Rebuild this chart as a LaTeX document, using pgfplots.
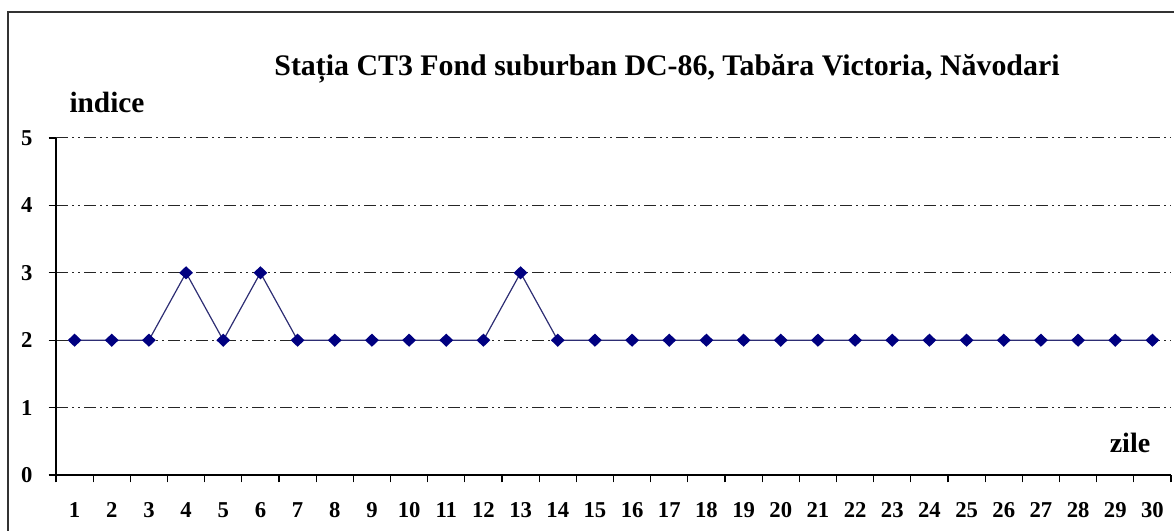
\documentclass[border=0pt]{standalone}
\usepackage{fontspec}
\setmainfont{Liberation Serif}
\usepackage{pgfplots}
\pgfplotsset{compat=1.18}
\definecolor{navy}{RGB}{0,0,128}
\definecolor{lineblue}{RGB}{45,45,115}
\begin{document}
\begin{tikzpicture}
\useasboundingbox (-42pt,-42pt) rectangle (838.5pt,356.25pt);
\draw[line width=1.1pt, black!80] (-36pt,-60pt) -- (-36pt,347.25pt) -- (860pt,347.25pt);
\begin{axis}[
  at={(0pt,0pt)}, anchor=south west,
  scale only axis, width=836.25pt, height=252.75pt,
  xmin=0.5, xmax=30.5, ymin=0, ymax=5,
  axis x line*=bottom, axis y line*=left,
  axis line style={line width=1.1pt, black},
  tick align=outside, major tick length=5.5pt,
  every tick/.style={black, line width=0.9pt},
  xtick={0.5,1.5,...,30.5}, xticklabels={},
  extra x ticks={1,2,...,30},
  extra x tick style={major tick length=0pt, grid=none},
  extra x tick labels={1,2,3,4,5,6,7,8,9,10,11,12,13,14,15,16,17,18,19,20,21,22,23,24,25,26,27,28,29,30},
  ytick={0,1,2,3,4,5},
  ymajorgrids,
  major grid style={black!85, line width=0.75pt, dash pattern=on 9pt off 3pt on 1.5pt off 3pt on 1.5pt off 3pt},
  /pgf/number format/assume math mode=true,
  ticklabel style={font=\fontsize{17}{17}\selectfont\bfseries},
  xticklabel style={anchor=base, inner sep=0pt, yshift=-32.25pt},
  yticklabel style={anchor=east, inner sep=0pt, xshift=-12pt},
  clip=false,
]
\addplot[lineblue, line width=0.9pt, mark=diamond*, mark size=4.3pt,
  mark options={xscale=1.4, fill=navy, draw=navy, solid}]
  coordinates {
  (1,2)(2,2)(3,2)(4,3)(5,2)(6,3)(7,2)(8,2)(9,2)(10,2)
  (11,2)(12,2)(13,3)(14,2)(15,2)(16,2)(17,2)(18,2)(19,2)(20,2)
  (21,2)(22,2)(23,2)(24,2)(25,2)(26,2)(27,2)(28,2)(29,2)(30,2)
  };
\end{axis}
\node[anchor=base, inner sep=0pt, font=\fontsize{22.4}{24}\selectfont\bfseries] at (458.25pt,299.25pt) {Stația CT3 Fond suburban DC-86, Tabăra Victoria, Năvodari};
\node[anchor=base, inner sep=0pt, font=\fontsize{22}{24}\selectfont\bfseries] at (38.25pt,271.5pt) {indice};
\node[anchor=base, inner sep=0pt, font=\fontsize{21}{24}\selectfont\bfseries] at (805.5pt,16.5pt) {zile};
\end{tikzpicture}
\end{document}
